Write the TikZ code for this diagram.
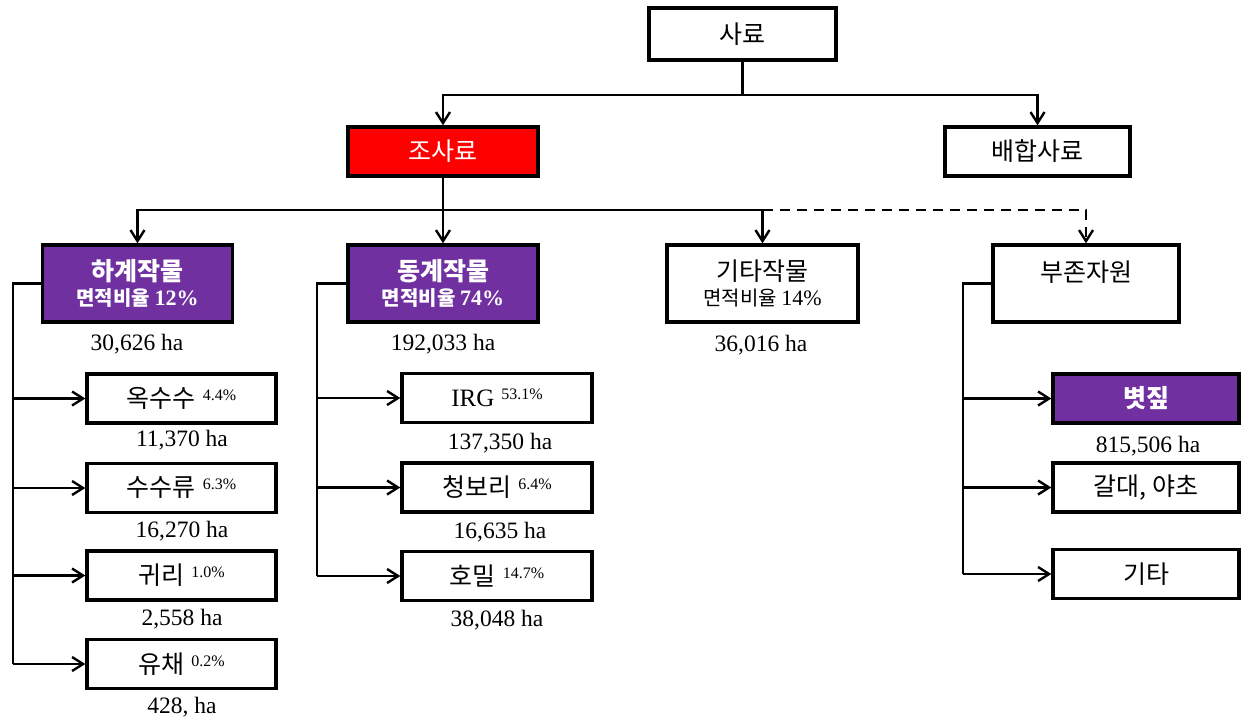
\documentclass[tikz,border=0pt]{standalone}
\usepackage{fontspec}
\setmainfont{Liberation Serif}
\newfontfamily\kr{Noto Sans CJK KR}
\usetikzlibrary{arrows.meta}
\definecolor{pur}{RGB}{112,48,160}
\definecolor{redbox}{RGB}{255,0,0}
\newcommand\sps[1]{\hspace{7pt}\raisebox{7pt}{\rmfamily\fontsize{16}{16}\selectfont #1}}
\begin{document}
\begin{tikzpicture}[x=1pt,y=-1pt,
  bx/.style={draw, line width=3.4pt, fill=white, inner sep=0pt, minimum width=190pt, minimum height=49pt, align=center, font=\kr\fontsize{25}{28}\selectfont},
  pbx/.style={bx, fill=pur, text=white},
  tall/.style={minimum height=77pt},
  conn/.style={line width=2.4pt, -{Straight Barb[length=11pt,width=14pt,line width=2.4pt]}},
  plain/.style={line width=2.4pt},
  num/.style={inner sep=0pt, font=\rmfamily\fontsize{23.5}{25}\selectfont}]
\useasboundingbox (0,0) rectangle (1242,721);
% level 1
\node[bx, minimum width=187pt, minimum height=52pt] (saryo) at (742.5,34) {사료};
% level 2
\node[bx, fill=redbox, text=white] (josaryo) at (443,151.5) {조사료};
\node[bx, minimum width=185pt] (baehap) at (1037.5,151.5) {배합사료};
% level 3
\node[pbx, tall] (hagye) at (137.5,283.5) {\bfseries 하계작물\\[-3pt]{\fontsize{20}{22}\selectfont\bfseries 면적비율 {\rmfamily\fontsize{22}{22}\selectfont 12\%}}};
\node[pbx, tall] (donggye) at (443,283.5) {\bfseries 동계작물\\[-3pt]{\fontsize{20}{22}\selectfont\bfseries 면적비율 {\rmfamily\fontsize{22}{22}\selectfont 74\%}}};
\node[bx, tall, minimum width=191pt] (gita) at (762.5,283.5) {기타작물\\[-3pt]{\fontsize{20}{22}\selectfont 면적비율 {\rmfamily\fontsize{22}{22}\selectfont 14\%}}};
\node[bx, tall, minimum width=186pt] (bujon) at (1086,283.5) {};
\node[inner sep=0pt, font=\kr\fontsize{25}{28}\selectfont] (bujontxt) at (1086,272) {부존자원};
% numbers under level 3
\node[num] (n1) at (137,344) {30,626 ha};
\node[num] (n2) at (443,344) {192,033 ha};
\node[num] (n3) at (761,345) {36,016 ha};
% left column
\node[bx, minimum width=189pt] (oks) at (181.5,398.5) {옥수수\sps{4.4\%}};
\node[bx, minimum width=189pt] (sus) at (181.5,488) {수수류\sps{6.3\%}};
\node[bx, minimum width=189pt] (gwi) at (181.5,575.5) {귀리\sps{1.0\%}};
\node[bx, minimum width=189pt] (yu) at (181.5,664) {유채\sps{0.2\%}};
\node[num] (n4) at (182,440) {11,370 ha};
\node[num] (n5) at (182,531) {16,270 ha};
\node[num] (n6) at (182,619) {2,558 ha};
\node[num] (n7) at (182,707) {428, ha};
% middle column
\node[bx] (irg) at (497,398) {{\rmfamily IRG}\sps{53.1\%}};
\node[bx] (chb) at (497,487.5) {청보리\sps{6.4\%}};
\node[bx] (hom) at (497,576) {호밀\sps{14.7\%}};
\node[num] (n8) at (500,443) {137,350 ha};
\node[num] (n9) at (500,532) {16,635 ha};
\node[num] (n10) at (497,620) {38,048 ha};
% right column
\node[pbx, minimum width=186pt] (byeot) at (1146,398.5) {\bfseries 볏짚};
\node[bx, minimum width=186pt] (gald) at (1146,487.5) {갈대, 야초};
\node[bx, minimum width=186pt] (gt) at (1146,574) {기타};
\node[num] (n11) at (1148,446) {815,506 ha};
% connectors top
\draw[plain] (saryo.south) -- ++(0,33) coordinate (t1);
\draw[conn] (t1) -| (josaryo.north);
\draw[conn] (t1) -| (baehap.north);
\coordinate (h2) at (443,210);
\draw[conn] (josaryo.south) -- (donggye.north);
\draw[conn] (h2) -| (hagye.north);
\draw[conn] (h2) -| (gita.north);
\draw[conn, dash pattern=on 10pt off 7pt] (gita.north |- h2) -| (bujon.north);
% left column connectors
\coordinate (L) at (13,0);
\draw[plain] (hagye.west) -| (L |- yu.west);
\foreach \b in {oks,sus,gwi,yu} \draw[conn] (L |- \b.west) -- (\b.west);
% middle
\coordinate (M) at (317,0);
\draw[plain] (donggye.west) -| (M |- hom.west);
\foreach \b in {irg,chb,hom} \draw[conn] (M |- \b.west) -- (\b.west);
% right
\coordinate (R) at (963,0);
\draw[plain] (bujon.west) -| (R |- gt.west);
\foreach \b in {byeot,gald,gt} \draw[conn] (R |- \b.west) -- (\b.west);
\end{tikzpicture}
\end{document}
